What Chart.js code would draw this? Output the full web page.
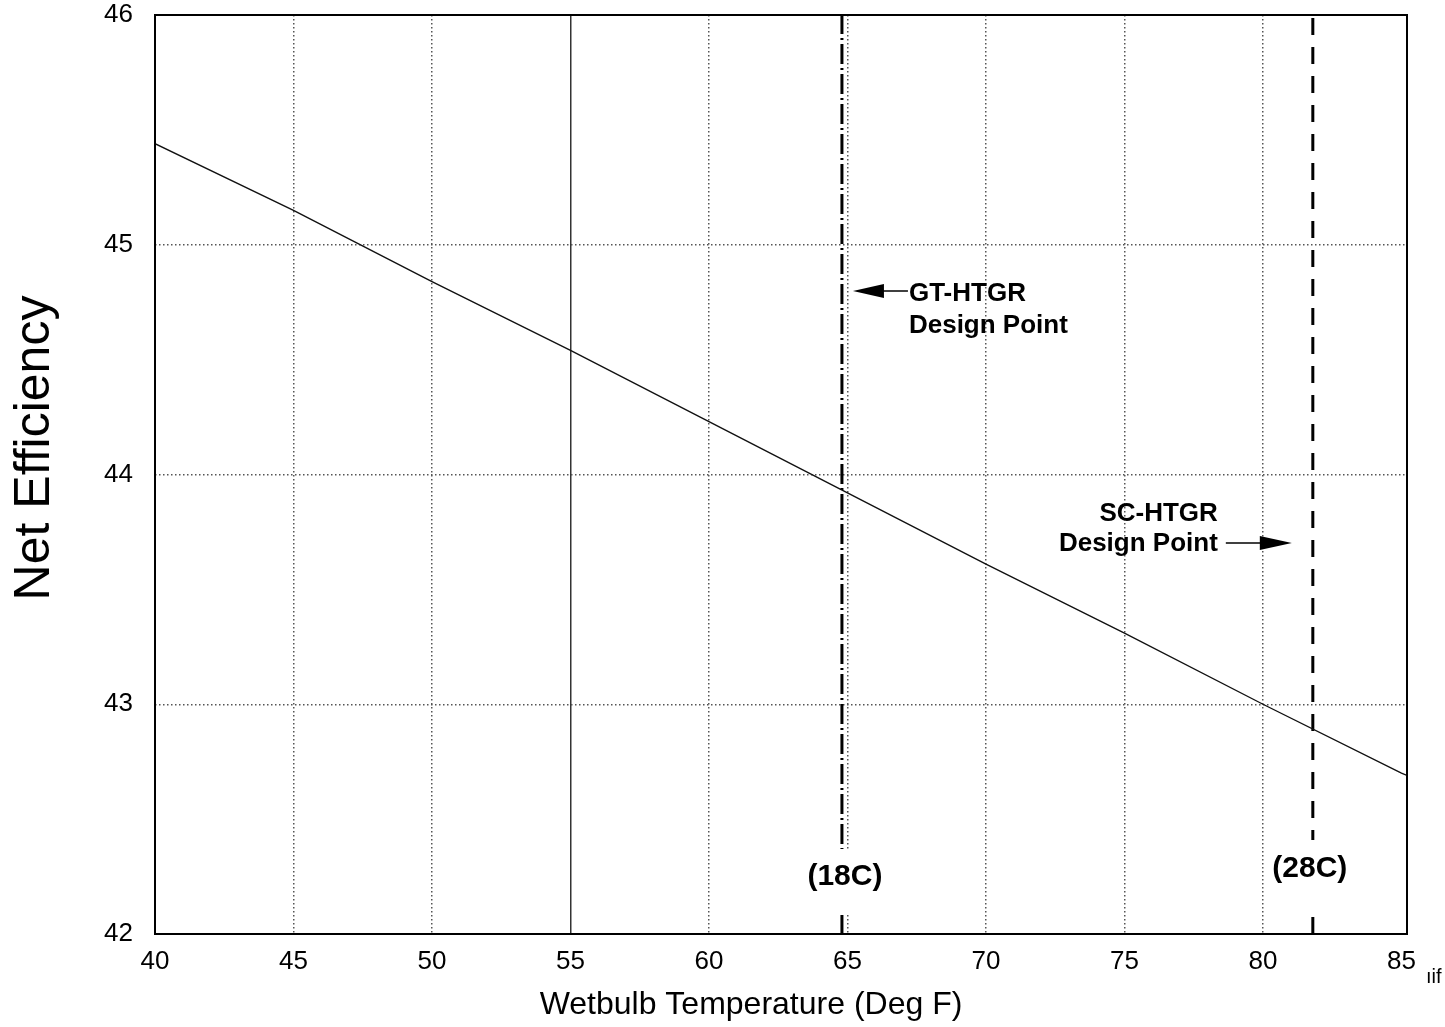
<!DOCTYPE html>
<html>
<head>
<meta charset="utf-8">
<script src="https://cdn.jsdelivr.net/npm/chart.js@4.4.0/dist/chart.umd.min.js"></script>
<style>
  html, body { margin: 0; padding: 0; background: #fff; }
  #wrap { width: 1445px; height: 1027px; position: relative; }
</style>
</head>
<body>
<div id="wrap"><canvas id="effChart"></canvas></div>
<script>
// Net efficiency vs wetbulb temperature
const xTicks = [40, 45, 50, 55, 60, 65, 70, 75, 80, 85];
const yTicks = [42, 43, 44, 45, 46];
const tempF = [40, 45, 50, 55, 60, 65, 70, 75, 80, 85, 85.2];
const netEff = [45.44, 45.15, 44.84, 44.54, 44.23, 43.92, 43.61, 43.31, 43.0, 42.7, 42.69];
const gtDesignF = 64.8;   // GT-HTGR design point (18C)
const scDesignF = 81.8;   // SC-HTGR design point (28C)
const designSpan = [42, 46];

const FONT = '"Liberation Sans", Arial, sans-serif';

// frame, titles and annotations
const extras = {
    id: 'extras',
    afterDatasetsDraw(chart) {
        const ctx = chart.ctx;
        const a = chart.chartArea;
        const xs = chart.scales.x;
        ctx.save();

        // frame
        ctx.strokeStyle = '#000';
        ctx.lineWidth = 2;
        ctx.setLineDash([]);
        ctx.strokeRect(a.left, a.top, a.right - a.left, a.bottom - a.top);

        ctx.fillStyle = '#000';
        ctx.textBaseline = 'middle';

        // axis titles
        ctx.font = '32px ' + FONT;
        ctx.textAlign = 'center';
        ctx.fillText('Wetbulb Temperature (Deg F)', 751, 1005);
        ctx.save();
        ctx.translate(35, 448);
        ctx.rotate(-Math.PI / 2);
        ctx.font = '50px ' + FONT;
        ctx.fillText('Net Efficiency', 0, 0);
        ctx.restore();

        const gx = xs.getPixelForValue(gtDesignF);
        const sx = xs.getPixelForValue(scDesignF);

        // GT-HTGR label + arrow
        ctx.font = 'bold 26px ' + FONT;
        ctx.textAlign = 'left';
        ctx.fillText('GT-HTGR', gx + 67, 294);
        ctx.fillText('Design Point', gx + 67, 326);
        ctx.lineWidth = 1.5;
        ctx.beginPath();
        ctx.moveTo(gx + 38, 291);
        ctx.lineTo(gx + 66, 291);
        ctx.stroke();
        ctx.beginPath();
        ctx.moveTo(gx + 11, 291);
        ctx.lineTo(gx + 42, 284);
        ctx.lineTo(gx + 42, 298);
        ctx.closePath();
        ctx.fill();

        // SC-HTGR label + arrow
        ctx.textAlign = 'right';
        ctx.fillText('SC-HTGR', sx - 95, 514);
        ctx.fillText('Design Point', sx - 95, 544);
        ctx.beginPath();
        ctx.moveTo(sx - 87, 543);
        ctx.lineTo(sx - 50, 543);
        ctx.stroke();
        ctx.beginPath();
        ctx.moveTo(sx - 21, 543);
        ctx.lineTo(sx - 53, 536);
        ctx.lineTo(sx - 53, 550);
        ctx.closePath();
        ctx.fill();

        // temperature tags with a white gap in the lines
        ctx.font = 'bold 30px ' + FONT;
        ctx.textAlign = 'center';
        ctx.fillStyle = '#fff';
        ctx.fillRect(gx - 40, 849, 80, 66);
        ctx.fillRect(sx - 40, 840, 80, 68);
        ctx.fillStyle = '#000';
        ctx.fillText('(18C)', gx + 3, 877);
        ctx.fillText('(28C)', sx - 3, 869);

        // scan mark
        ctx.font = '20px ' + FONT;
        ctx.textAlign = 'left';
        ctx.fillText('\u0131if', 1426, 977);
        ctx.restore();
    }
};

new Chart(document.getElementById('effChart').getContext('2d'), {
    type: 'scatter',
    data: {
        datasets: [{
            label: 'Net Efficiency',
            data: tempF.map((t, i) => ({ x: t, y: netEff[i] })),
            showLine: true,
            borderColor: '#111',
            borderWidth: 1.4,
            pointRadius: 0,
            tension: 0
        }, {
            label: 'GT-HTGR',
            data: designSpan.map(v => ({ x: gtDesignF, y: v })),
            showLine: true,
            borderColor: '#000',
            borderWidth: 3,
            borderDash: [20, 4, 2, 4],
            pointRadius: 0
        }, {
            label: 'SC-HTGR',
            data: designSpan.map(v => ({ x: scDesignF, y: v })),
            showLine: true,
            borderColor: '#000',
            borderWidth: 3,
            borderDash: [17, 12],
            pointRadius: 0
        }]
    },
    options: {
        responsive: true,
        maintainAspectRatio: false,
        animation: false,
        layout: { padding: { top: 15, right: 38, left: 0, bottom: 0 } },
        plugins: {
            legend: { display: false },
            tooltip: { enabled: false }
        },
        scales: {
            x: {
                type: 'linear',
                min: 40,
                max: 85.2,
                afterBuildTicks: s => { s.ticks = xTicks.map(v => ({ value: v })); },
                afterFit: s => { s.height = 93; s.paddingLeft = 0; s.paddingRight = 0; },
                ticks: {
                    color: '#000',
                    font: { family: FONT, size: 26 },
                    padding: 12,
                    maxRotation: 0,
                    autoSkip: false
                },
                grid: {
                    drawTicks: false,
                    lineWidth: 1.5,
                    color: c => (c.tick && (c.tick.value === 40 || c.tick.value === 85)) ? 'rgba(0,0,0,0)' :
                        (c.tick && c.tick.value === 55 ? '#333' : '#555')
                },
                border: {
                    display: false,
                    dash: c => (c.tick && c.tick.value === 55) ? [] : [1.5, 2.5]
                }
            },
            y: {
                min: 42,
                max: 46,
                afterBuildTicks: s => { s.ticks = yTicks.map(v => ({ value: v })); },
                afterFit: s => { s.width = 155; s.paddingTop = 0; s.paddingBottom = 0; },
                ticks: {
                    color: '#000',
                    font: { family: FONT, size: 26 },
                    padding: 22
                },
                grid: {
                    drawTicks: false,
                    lineWidth: 1.5,
                    color: c => (c.tick && (c.tick.value === 42 || c.tick.value === 46)) ? 'rgba(0,0,0,0)' : '#555'
                },
                border: { display: false, dash: [1.5, 2.5] }
            }
        }
    },
    plugins: [extras]
});
</script>
</body>
</html>
